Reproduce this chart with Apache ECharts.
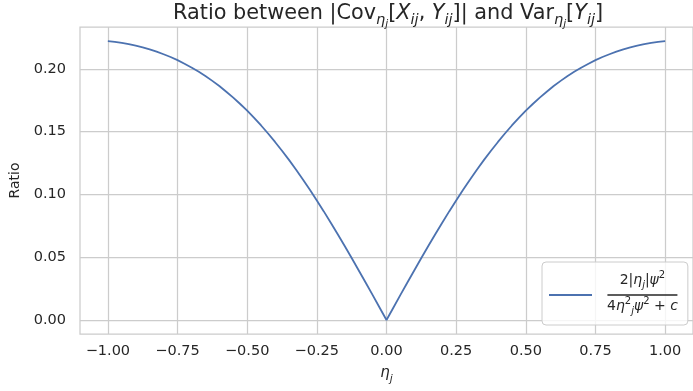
<!DOCTYPE html>
<html>
<head>
    <meta charset="utf-8">
    <title>Ratio</title>
    <script src="https://cdn.jsdelivr.net/npm/echarts@6/dist/echarts.min.js"></script>
    <style>
        html, body { margin: 0; padding: 0; background: #fff; }
        #main { width: 693px; height: 391px; }
    </style>
</head>
<body>
<div id="main"></div>
<script type="text/javascript">
    // eta_j values (x) and the ratio (y)
    var etaValues = [-1.000, -0.975, -0.950, -0.925, -0.900, -0.875, -0.850, -0.825, -0.800, -0.775,
        -0.750, -0.725, -0.700, -0.675, -0.650, -0.625, -0.600, -0.575, -0.550, -0.525,
        -0.500, -0.475, -0.450, -0.425, -0.400, -0.375, -0.350, -0.325, -0.300, -0.275,
        -0.250, -0.225, -0.200, -0.175, -0.150, -0.125, -0.100, -0.075, -0.050, -0.025,
        0.000, 0.025, 0.050, 0.075, 0.100, 0.125, 0.150, 0.175, 0.200, 0.225,
        0.250, 0.275, 0.300, 0.325, 0.350, 0.375, 0.400, 0.425, 0.450, 0.475,
        0.500, 0.525, 0.550, 0.575, 0.600, 0.625, 0.650, 0.675, 0.700, 0.725,
        0.750, 0.775, 0.800, 0.825, 0.850, 0.875, 0.900, 0.925, 0.950, 0.975, 1.000];
    var ratioValues = [0.222, 0.2215, 0.2207, 0.2197, 0.2184, 0.2171, 0.2155, 0.2137, 0.2116, 0.2094,
        0.2069, 0.2041, 0.2011, 0.1978, 0.1943, 0.1904, 0.1863, 0.1818, 0.1771, 0.1720,
        0.1667, 0.1609, 0.1549, 0.1485, 0.1418, 0.1348, 0.1275, 0.1198, 0.1119, 0.1037,
        0.0952, 0.0865, 0.0775, 0.0683, 0.0589, 0.0494, 0.0397, 0.0299, 0.0200, 0.0100,
        0.000, 0.0100, 0.0200, 0.0299, 0.0397, 0.0494, 0.0589, 0.0683, 0.0775, 0.0865,
        0.0952, 0.1037, 0.1119, 0.1198, 0.1275, 0.1348, 0.1418, 0.1485, 0.1549, 0.1609,
        0.1667, 0.1720, 0.1771, 0.1818, 0.1863, 0.1904, 0.1943, 0.1978, 0.2011, 0.2041,
        0.2069, 0.2094, 0.2116, 0.2137, 0.2155, 0.2171, 0.2184, 0.2197, 0.2207, 0.2215, 0.222];
    var xTicks = [-1.00, -0.75, -0.50, -0.25, 0.00, 0.25, 0.50, 0.75, 1.00];
    var yTicks = [0.00, 0.05, 0.10, 0.15, 0.20];
    var seriesName = 'ratio';

    var textColor = '#262626';
    var gridColor = '#cccccc';
    var font = 'DejaVu Sans';

    var seriesData = [];
    for (var i = 0; i < etaValues.length; i++) {
        seriesData.push([etaValues[i], ratioValues[i]]);
    }

    function fmt(v) {
        return (v < 0 ? '\u2212' : '') + Math.abs(v).toFixed(2);
    }

    // rich styles for title (main / italic / subscript / sub-subscript)
    function ts(size, italic, h, va) {
        return { fontSize: size, fontFamily: font, fontWeight: 'normal', fontStyle: italic ? 'italic' : 'normal',
            color: textColor, lineHeight: 30, height: h, verticalAlign: va };
    }
    var titleRich = {
        t: ts(20.8, false, 25, 'top'),
        ti: ts(20.8, true, 25, 'top'),
        ts: ts(14.5, true, 22, 'bottom'),
        tss: ts(10.5, true, 14, 'bottom')
    };
    var titleText = '{t|Ratio between |Cov}{ts|\u03b7}{tss|j}{t|[}{ti|X}{ts|ij}{t|, }{ti|Y}{ts|ij}' +
        '{t|]| and Var}{ts|\u03b7}{tss|j}{t|[}{ti|Y}{ts|ij}{t|]}';

    // legend fraction: numerator line, bar, denominator line
    function st(size, italic, h, va) {
        return { fontSize: size, fontFamily: font, fontStyle: italic ? 'italic' : 'normal', color: textColor,
            lineHeight: 20, height: h, verticalAlign: va, align: 'center' };
    }
    var legendRich = {
        n1: st(14, false, 14, 'top'),
        i1: st(14, true, 14, 'top'),
        p1: st(10, false, 4, 'top'),
        b1: st(10, true, 16, 'bottom'),
        n3: st(14, false, 18, 'top'),
        i3: st(14, true, 18, 'top'),
        p3: st(10, false, 8, 'top'),
        b3: st(10, true, 12, 'bottom'),
        bar: { width: 70, height: 1.3, lineHeight: 4, backgroundColor: textColor, fontSize: 2, align: 'center' }
    };
    var legendText = '{n1|2|}{i1|\u03b7}{b1|j}{n1||}{i1|\u03c8}{p1|2}\n' +
        '{bar| }\n' +
        '{n3|4}{i3|\u03b7}{p3|2}{b3|j}{i3|\u03c8}{p3|2}{n3| + }{i3|c}';

    var dom = document.getElementById('main');
    var myChart = echarts.init(dom, null, { renderer: 'canvas' });

    var option = {
        animation: false,
        backgroundColor: '#ffffff',
        title: {
            text: titleText,
            left: 173,
            top: 1,
            padding: 0,
            textStyle: { fontWeight: 'normal', rich: titleRich }
        },
        legend: {
            left: 542,
            top: 262,
            padding: [8, 10, 8, 7],
            backgroundColor: 'rgba(255,255,255,0.8)',
            borderColor: gridColor,
            borderWidth: 1,
            borderRadius: 4,
            icon: 'rect',
            itemWidth: 43,
            itemHeight: 2,
            data: [seriesName],
            formatter: function () { return legendText; },
            textStyle: { padding: [0, 0, 0, 10], rich: legendRich }
        },
        grid: {
            show: true,
            left: 80,
            top: 27,
            right: -4,
            bottom: 56,
            borderColor: gridColor,
            borderWidth: 1.25,
            backgroundColor: '#ffffff'
        },
        xAxis: {
            type: 'value',
            min: -1.1,
            max: 1.1,
            name: '{i|\u03b7}{s|j}',
            nameLocation: 'middle',
            nameGap: 30,
            nameTextStyle: {
                rich: {
                    i: { fontSize: 15, fontFamily: font, fontStyle: 'italic', color: textColor, lineHeight: 22, height: 18, verticalAlign: 'top' },
                    s: { fontSize: 10.5, fontFamily: font, fontStyle: 'italic', color: textColor, lineHeight: 22, height: 14, verticalAlign: 'bottom' }
                }
            },
            axisLine: { show: false },
            axisTick: { show: false, customValues: xTicks },
            axisLabel: {
                customValues: xTicks,
                margin: 10,
                fontSize: 14.5,
                fontFamily: font,
                color: textColor,
                formatter: fmt
            },
            splitLine: { show: true, lineStyle: { color: gridColor, width: 1.25 } }
        },
        yAxis: {
            type: 'value',
            min: -0.0111,
            max: 0.2333,
            name: 'Ratio',
            nameLocation: 'middle',
            nameGap: 53,
            nameTextStyle: { fontSize: 14, fontFamily: font, color: textColor },
            axisLine: { show: false },
            axisTick: { show: false, customValues: yTicks },
            axisLabel: {
                customValues: yTicks,
                margin: 14,
                fontSize: 14.5,
                fontFamily: font,
                color: textColor,
                formatter: fmt
            },
            splitLine: { show: true, lineStyle: { color: gridColor, width: 1.25 } }
        },
        series: [
            {
                name: seriesName,
                type: 'line',
                data: seriesData,
                symbol: 'none',
                color: '#4c72b0',
                lineStyle: { width: 1.8, color: '#4c72b0' }
            }
        ]
    };

    if (option && typeof option === 'object') {
        myChart.setOption(option);
    }

    window.addEventListener('resize', myChart.resize);
</script>
</body>
</html>
